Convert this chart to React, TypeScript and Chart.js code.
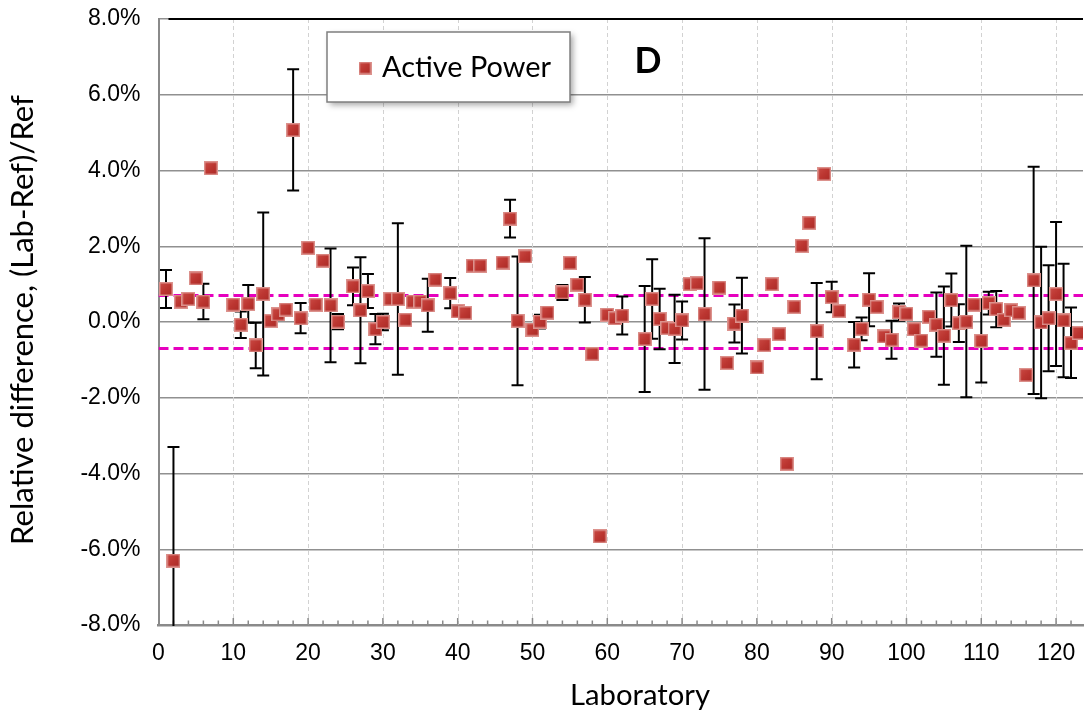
import React, { useEffect, useRef } from 'react';
import { Chart, registerables } from 'chart.js';

Chart.register(...registerables);

// ---- data (percent) ----
const labs = [
  1, 2, 3, 4, 5, 6, 7, 10, 11, 12, 13, 14, 15, 16, 17, 18, 19, 20, 21, 22, 23, 24, 26, 27, 28, 29, 30,
  31, 32, 33, 34, 35, 36, 37, 39, 40, 41, 42, 43, 46, 47, 48, 49, 50, 51, 52, 54, 55, 56, 57, 58, 59,
  60, 61, 62, 65, 66, 67, 68, 69, 70, 71, 72, 73, 75, 76, 77, 78, 80, 81, 82, 83, 84, 85, 86, 87, 88,
  89, 90, 91, 93, 94, 95, 96, 97, 98, 99, 100, 101, 102, 103, 104, 105, 106, 107, 108, 109, 110, 111,
  112, 113, 114, 115, 116, 117, 118, 119, 120, 121, 122, 123,
];
const values = [
  0.87, -6.3, 0.54, 0.61, 1.15, 0.54, 4.06, 0.46, -0.07, 0.48, -0.62, 0.74, 0.03, 0.2, 0.33, 5.07, 0.1,
  1.96, 0.46, 1.62, 0.44, 0.01, 0.94, 0.31, 0.82, -0.19, 0.0,
  0.61, 0.61, 0.06, 0.54, 0.54, 0.44, 1.12, 0.76, 0.28, 0.24, 1.49, 1.49, 1.57, 2.73, 0.03, 1.73, -0.2,
  0.01, 0.25, 0.78, 1.56, 0.99, 0.59, -0.84, -5.66,
  0.19, 0.1, 0.17, -0.45, 0.61, 0.08, -0.16, -0.18, 0.04, 1.0, 1.02, 0.21, 0.91, -1.08, -0.04, 0.17,
  -1.2, -0.61, 1.0, -0.32, -3.74, 0.4, 2.01, 2.62, -0.24,
  3.91, 0.66, 0.29, -0.6, -0.18, 0.59, 0.4, -0.38, -0.47, 0.26, 0.22, -0.19, -0.49, 0.14, -0.07, -0.36,
  0.58, -0.03, 0.01, 0.46, -0.5, 0.5,
  0.34, 0.06, 0.31, 0.24, -1.4, 1.1, -0.01, 0.1, 0.74, 0.04, -0.55, -0.29,
];
const errors = [
  0.5, 3.0, 0, 0, 0, 0.47, 0, 0, 0.35, 0.5, 0.6, 2.15, 0, 0, 0, 1.6, 0.4, 0, 0, 0, 1.5, 0.2, 0.5, 1.4,
  0.45, 0.4, 0.22,
  0, 2.0, 0, 0, 0, 0.7, 0, 0.4, 0, 0, 0, 0, 0, 0.5, 1.7, 0, 0, 0.18, 0, 0.2, 0, 0, 0.6, 0, 0,
  0, 0, 0.5, 1.4, 1.05, 0.8, 0, 0.9, 0.5, 0, 0, 2.0, 0, 0, 0.5, 1.0, 0, 0, 0, 0, 0, 0, 0, 0, 1.27,
  0, 0.4, 0, 0.6, 0.3, 0.7, 0, 0, 0.5, 0.23, 0, 0, 0, 0, 0.85, 1.3, 0.7, 0.5, 2.0, 0, 1.1, 0.3,
  0.48, 0, 0, 0, 0, 3.0, 2.0, 1.4, 1.9, 1.5, 0.93, 0,
];
const limitBand = [0.7, -0.7];
const xTickValues = [0, 10, 20, 30, 40, 50, 60, 70, 80, 90, 100, 110, 120];
const yTickValues = [-8, -6, -4, -2, 0, 2, 4, 6, 8];
const seriesName = 'Active Power';
const panelLetter = 'D';
const xTitle = 'Laboratory';
const yTitle = 'Relative difference, (Lab-Ref)/Ref';

const X_MIN = 0;
const X_MAX = 123.6;
const Y_MIN = -8;
const Y_MAX = 8;

const MAGENTA = '#E600BE';
const TITLE_FONT = 'Lato, "Open Sans", sans-serif';
const TICK_FONT = '"Liberation Sans", Arial, sans-serif';

function fitSize(text: string, weight: string, family: string, target: number): number {
  const c = document.createElement('canvas').getContext('2d')!;
  c.font = `${weight} 100px ${family}`;
  const w = c.measureText(text).width;
  return (100 * target) / w;
}

function makeMarker(size: number): HTMLCanvasElement {
  const c = document.createElement('canvas');
  c.width = size;
  c.height = size;
  const g = c.getContext('2d')!;
  g.fillStyle = '#DC928D';
  g.fillRect(0, 0, size, size);
  const grad = g.createLinearGradient(0, 0, size, size);
  grad.addColorStop(0, '#CC4D47');
  grad.addColorStop(0.5, '#BC3631');
  grad.addColorStop(1, '#A82925');
  g.fillStyle = grad;
  g.fillRect(1.5, 1.5, size - 3, size - 3);
  return c;
}

export default function App() {
  const ref = useRef<HTMLCanvasElement | null>(null);

  useEffect(() => {
    const canvas = ref.current;
    if (!canvas) return;

    const ySize = fitSize(yTitle, 'normal', TITLE_FONT, 450);
    const xSize = fitSize(xTitle, 'normal', TITLE_FONT, 140);
    const legSize = fitSize(seriesName, 'normal', TITLE_FONT, 169);
    const dSize = fitSize(panelLetter, 'bold', TITLE_FONT, 27);

    const marker = makeMarker(14);
    const legendMarker = makeMarker(13);

    const points = labs.map((x, i) => ({ x, y: values[i] }));

    const decor = {
      id: 'decor',
      beforeDatasetsDraw(chart: any) {
        const { ctx, chartArea: a, scales } = chart;
        const xs = scales.x;
        ctx.save();
        ctx.strokeStyle = '#d2d2d2';
        ctx.lineWidth = 1;
        ctx.setLineDash([4, 3]);
        for (const v of xTickValues) {
          if (v === 0) continue;
          const px = Math.round(xs.getPixelForValue(v)) + 0.5;
          ctx.beginPath();
          ctx.moveTo(px, a.top);
          ctx.lineTo(px, a.bottom);
          ctx.stroke();
        }
        ctx.setLineDash([]);
        ctx.strokeStyle = '#8a8a8a';
        ctx.lineWidth = 1.5;
        for (let v = 2; v < X_MAX; v += 2) {
          const px = xs.getPixelForValue(v);
          const len = v % 10 === 0 ? 7 : 4.5;
          ctx.beginPath();
          ctx.moveTo(px, a.bottom);
          ctx.lineTo(px, a.bottom - len);
          ctx.stroke();
        }
        ctx.strokeStyle = '#000';
        ctx.lineWidth = 2;
        ctx.beginPath();
        ctx.moveTo(a.left + 10, a.top);
        ctx.lineTo(a.right, a.top);
        ctx.stroke();
        ctx.restore();
      },
      beforeDatasetDraw(chart: any, args: any) {
        if (args.index !== 0) return;
        const { ctx, chartArea: a, scales } = chart;
        const xs = scales.x;
        const ys = scales.y;
        ctx.save();
        ctx.beginPath();
        ctx.rect(a.left, a.top - 1, a.right - a.left, a.bottom - a.top + 2);
        ctx.clip();
        ctx.strokeStyle = '#000';
        ctx.lineWidth = 2;
        labs.forEach((lab, i) => {
          const e = errors[i];
          if (!e) return;
          const px = xs.getPixelForValue(lab);
          const top = ys.getPixelForValue(values[i] + e);
          const bot = ys.getPixelForValue(values[i] - e);
          ctx.beginPath();
          ctx.moveTo(px, top);
          ctx.lineTo(px, bot);
          ctx.moveTo(px - 6, top);
          ctx.lineTo(px + 6, top);
          ctx.moveTo(px - 6, bot);
          ctx.lineTo(px + 6, bot);
          ctx.stroke();
        });
        ctx.restore();
      },
      afterDraw(chart: any) {
        const { ctx, chartArea: a } = chart;
        ctx.save();
        const lx = 327, ly = 32, lw = 243, lh = 70;
        ctx.shadowColor = 'rgba(0,0,0,0.35)';
        ctx.shadowBlur = 6;
        ctx.shadowOffsetX = 3;
        ctx.shadowOffsetY = 3;
        ctx.fillStyle = '#fff';
        ctx.fillRect(lx, ly, lw, lh);
        ctx.shadowColor = 'transparent';
        ctx.shadowBlur = 0;
        ctx.shadowOffsetX = 0;
        ctx.shadowOffsetY = 0;
        ctx.strokeStyle = '#7f7f7f';
        ctx.lineWidth = 1.5;
        ctx.strokeRect(lx, ly, lw, lh);
        ctx.drawImage(legendMarker, 358.5, 61.5);
        ctx.fillStyle = '#000';
        ctx.font = `normal ${legSize}px ${TITLE_FONT}`;
        ctx.textAlign = 'left';
        ctx.textBaseline = 'alphabetic';
        ctx.fillText(seriesName, 382, 77);
        ctx.font = `bold ${dSize}px ${TITLE_FONT}`;
        ctx.textAlign = 'center';
        ctx.fillText(panelLetter, 648, 73);
        ctx.font = `normal ${xSize}px ${TITLE_FONT}`;
        ctx.textAlign = 'center';
        ctx.fillText(xTitle, 640, 705);
        ctx.translate(33, (a.top + a.bottom) / 2);
        ctx.rotate(-Math.PI / 2);
        ctx.font = `normal ${ySize}px ${TITLE_FONT}`;
        ctx.textAlign = 'center';
        ctx.fillText(yTitle, 2, 0);
        ctx.restore();
      },
    };

    const chart = new Chart(canvas, {
      type: 'scatter',
      data: {
        datasets: [
          {
            type: 'scatter',
            label: seriesName,
            data: points,
            pointStyle: marker,
            pointRadius: 7,
            pointHoverRadius: 7,
            backgroundColor: '#BD3832',
            borderColor: '#DA8A85',
            order: 0,
          } as any,
          ...limitBand.map((v) => ({
            type: 'line',
            label: 'limit ' + v,
            data: [
              { x: X_MIN, y: v },
              { x: X_MAX, y: v },
            ],
            borderColor: MAGENTA,
            borderWidth: 3.2,
            borderDash: [10, 5],
            pointRadius: 0,
            fill: false,
            order: 1,
          })) as any,
        ],
      },
      options: {
        animation: false,
        responsive: false,
        maintainAspectRatio: false,
        layout: { padding: { top: 19, left: 0, right: 0, bottom: 0 } },
        plugins: { legend: { display: false }, tooltip: { enabled: false } },
        scales: {
          x: {
            type: 'linear',
            min: X_MIN,
            max: X_MAX,
            afterBuildTicks: (s: any) => {
              s.ticks = xTickValues.map((v) => ({ value: v }));
            },
            ticks: {
              font: { family: TICK_FONT, size: 23 },
              color: '#000',
              padding: 15,
              maxRotation: 0,
              autoSkip: false,
            },
            grid: { display: false, drawTicks: false },
            border: { display: true, color: '#8a8a8a', width: 2.5 },
            afterFit: (s: any) => {
              s.height = 88;
              s.paddingLeft = 0;
              s.paddingRight = 0;
            },
          },
          y: {
            type: 'linear',
            min: Y_MIN,
            max: Y_MAX,
            afterBuildTicks: (s: any) => {
              s.ticks = yTickValues.map((v) => ({ value: v }));
            },
            ticks: {
              callback: (v: any) => Number(v).toFixed(1) + '%',
              font: { family: TICK_FONT, size: 23 },
              color: '#000',
              padding: 18,
            },
            grid: { color: '#909090', lineWidth: 1.5, drawTicks: false },
            border: { color: '#8a8a8a', width: 2 },
            afterFit: (s: any) => {
              s.width = 158.5;
              s.paddingTop = 0;
              s.paddingBottom = 0;
            },
          },
        },
      } as any,
      plugins: [decor],
    });

    return () => chart.destroy();
  }, []);

  return (
    <div style={{ position: 'absolute', left: 0, top: 0, width: 1091, height: 713, background: '#fff' }}>
      <canvas ref={ref} width={1091} height={713} style={{ display: 'block' }} />
    </div>
  );
}
